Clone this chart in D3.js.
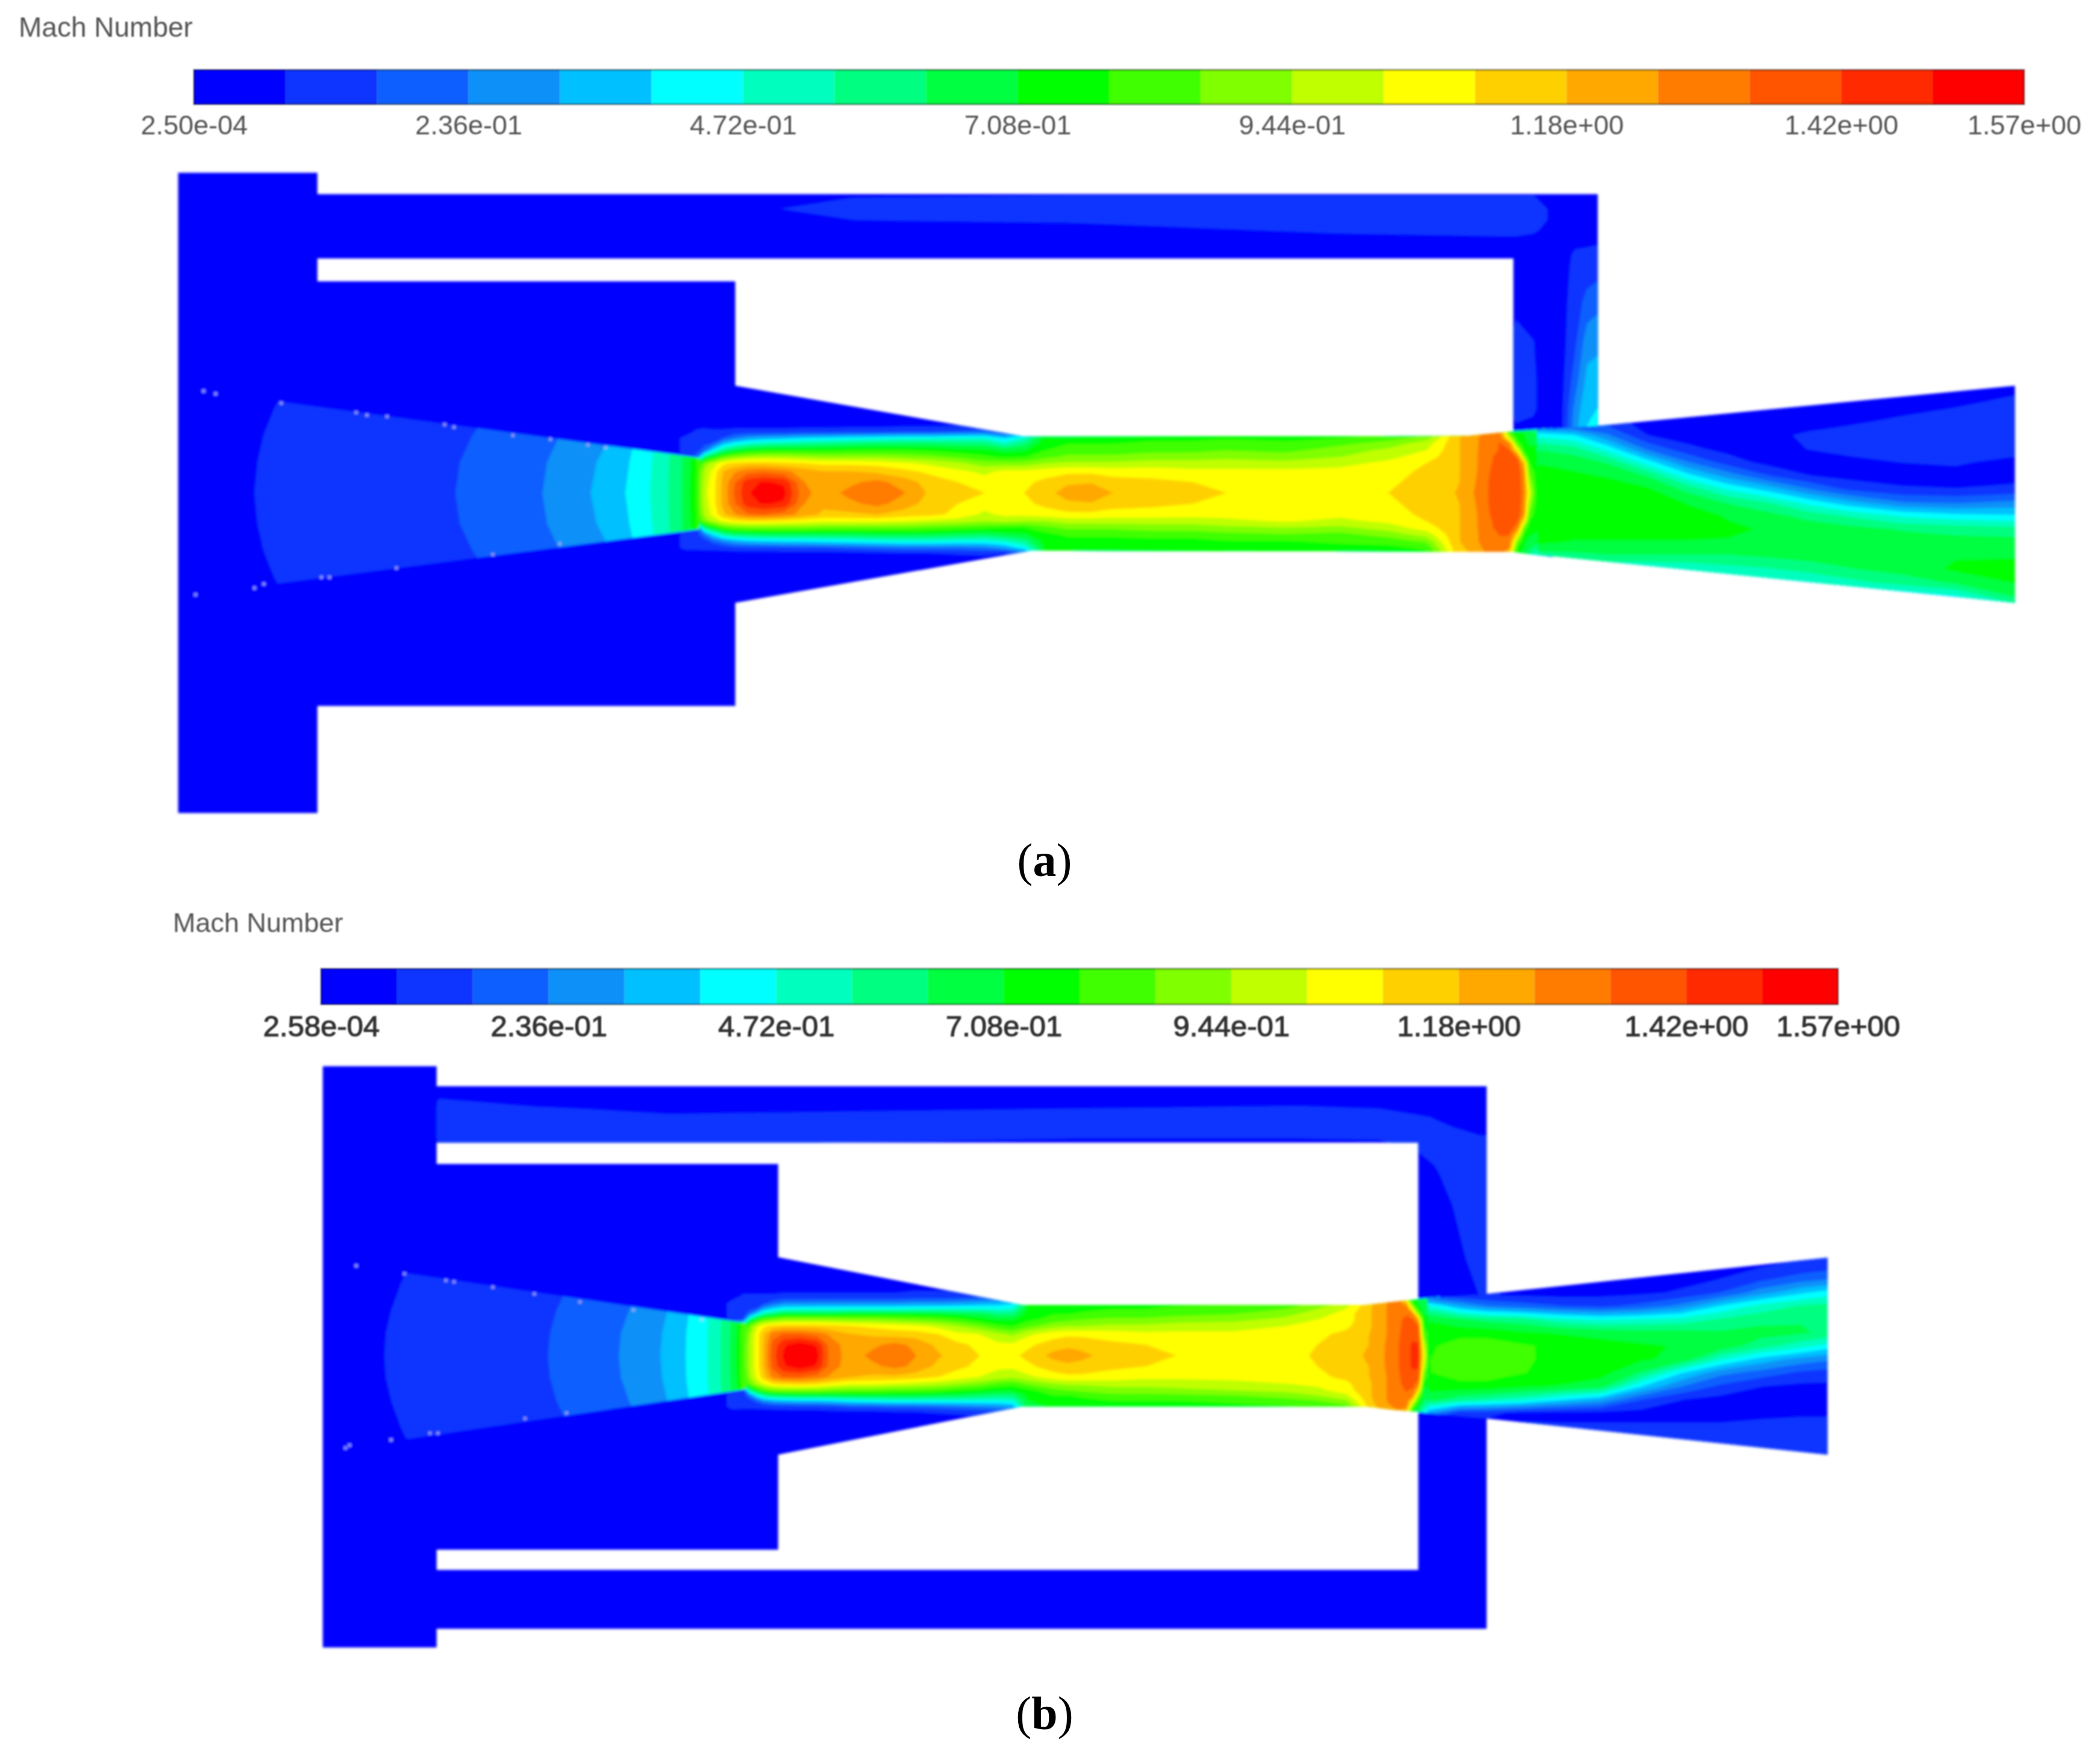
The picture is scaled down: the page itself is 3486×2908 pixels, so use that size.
<!DOCTYPE html>
<html>
<head>
<meta charset="utf-8">
<title>Mach Number contours</title>
<script src="https://d3js.org/d3.v7.min.js"></script>
<style>
  html, body { margin: 0; background: #fff; }
  svg { display: block; }
</style>
</head>
<body>
<svg width="3486" height="2908"></svg>
<script>
// legend: 20 equal bands, same rainbow for both panels
var bandColors = ["#0000ff", "#0a34ff", "#0a60ff", "#0a90f8", "#00c0ff", "#00ffff", "#00ffbf", "#00ff80", "#00ff40", "#00ff00",
                  "#40ff00", "#80ff00", "#bfff00", "#ffff00", "#ffd000", "#ffa800", "#ff7c00", "#ff5400", "#ff2a00", "#ff0000"];
var legendTicks = [0, 3, 6, 9, 12, 15, 18, 20];
var tickLabelsA = ["2.50e-04", "2.36e-01", "4.72e-01", "7.08e-01", "9.44e-01", "1.18e+00", "1.42e+00", "1.57e+00"];
var tickLabelsB = ["2.58e-04", "2.36e-01", "4.72e-01", "7.08e-01", "9.44e-01", "1.18e+00", "1.42e+00", "1.57e+00"];
var machStep = 7.85; // band width, Mach x 100

// geometry, in units of the 1568 wide sheet
var ductA = [[133,129],[237,129],[237,145],[1193,145],[1193,318],[1504.5,288],[1504.5,450],[1130,412],[1090,411],[770,411],[549,450],[549,527],[237,527],[237,607],[133,607]];
var gapA = [[237,193],[1130,193],[1130,322],[1095,325.5],[765,326],[549,288],[549,210],[237,210]];
var coneA = [[150,292],[522,342],[522,395],[150,443]];
var jetClipA = [[500,280],[549,280],[549,288],[765,326],[1095,325.5],[1130,322],[1160,320],[1160,416],[1130,412],[770,411],[549,450],[549,456],[500,456]];
var diffClipA = [[1148,321],[1193,318],[1504.5,288],[1504.5,450],[1148,414]];

var ductB = [[241,796],[326,796],[326,811],[1110,811],[1110,966],[1364.5,939],[1364.5,1086],[1110,1059],[1110,1216],[326,1216],[326,1230],[241,1230]];
var gapB = [[326,853],[1059,853],[1059,970],[1040,972],[1020,974.3],[763,974.3],[581,938.6],[581,869],[326,869]];
var gapB2 = [[326,1157],[581,1157],[581,1086],[763,1050],[1020,1050],[1040,1052.5],[1059,1054],[1059,1172],[326,1172]];
var coneB = [[245,942],[557,988],[557,1037],[245,1083]];
var jetClipB = [[535,930],[581,930],[581,938.6],[763,974.3],[1020,974.3],[1040,972],[1059,970],[1075,968.5],[1075,1056],[1059,1054],[1040,1052.5],[1020,1050],[763,1050],[581,1086],[581,1094],[535,1094]];
var diffClipB = [[1066,969.5],[1110,966],[1364.5,939],[1364.5,1086],[1110,1059],[1066,1055]];

// Mach x 100. Each inner array is one x station, top to bottom.
var jetXA = [500,512,520,526,532,540,548,558,570,585,600,615,635,655,675,695,715,735,750,765,780,797,815,830,860,890,915,960,1000,1037,1065,1087,1101,1112,1120,1127,1133,1138,1142,1147,1155];
var jetYA = [316,322,327,331,336,341,346,352,360,368,376,384,389,394,399,404,409,413,418];
var jetMachA = [
  [4,4,4,4,4,4,4,30,50,52,50,30,4,4,4,4,4,4,4],
  [4,4,10,10,10,10,50,60,65,68,65,60,50,10,10,10,10,4,4],
  [4,9,12,12,12,20,72,78,80,80,80,78,72,14,12,12,10,4,4],
  [4,10,12,14,20,60,90,96,98,100,98,96,90,60,24,12,10,5,4],
  [4,9,12,16,40,72,98,104,106,106,106,104,96,72,40,18,10,5,4],
  [4,9,16,34,58,84,108,118,120,120,120,116,104,82,56,26,11,5,4],
  [4,10,24,42,66,90,112,124,132,134,132,124,108,86,62,32,13,5,4],
  [4,10,30,48,72,94,114,130,146,148,146,132,110,88,64,36,14,5,4],
  [4,10,33,52,75,96,114,132,150,155,150,134,110,88,66,38,14,5,4],
  [4,10,35,54,76,96,112,128,148,152,148,130,108,88,66,40,15,5,4],
  [4,11,38,56,76,94,110,122,126,128,126,122,106,88,66,40,16,5,4],
  [4,11,40,58,76,92,108,118,120,122,120,116,104,86,66,42,16,5,4],
  [4,12,42,60,77,92,108,118,124,128,124,116,104,86,66,44,18,6,4],
  [4,12,44,62,78,92,107,116,128,132,128,118,104,86,68,46,20,7,4],
  [4,14,46,62,78,90,104,112,122,126,122,114,102,86,68,48,22,8,4],
  [4,14,46,62,76,88,100,108,114,116,114,112,100,84,68,48,22,8,4],
  [4,16,48,60,74,84,96,104,110,112,110,108,98,82,66,46,22,9,4],
  [4,18,48,60,72,80,90,100,106,110,106,100,94,80,64,46,24,10,4],
  [4,10,38,50,68,76,90,104,106,108,106,104,96,78,68,50,30,8,4],
  [8,20,50,60,70,78,90,104,108,110,108,104,94,78,70,58,44,20,8],
  [60,70,74,76,78,84,94,106,112,114,112,106,94,84,76,74,72,70,60],
  [68,74,76,78,82,88,96,108,116,122,116,108,98,88,80,76,74,72,68],
  [70,74,76,78,82,88,96,108,117,124,117,108,98,88,80,76,74,72,70],
  [70,74,76,78,82,88,96,106,114,118,114,106,98,88,80,76,74,72,70],
  [70,74,76,80,84,90,98,106,112,115,112,106,98,90,82,76,74,72,70],
  [70,74,76,80,84,90,98,104,110,112,110,105,98,90,82,76,74,72,70],
  [70,74,78,80,86,92,98,104,107,110,107,105,100,92,84,78,74,72,70],
  [70,74,76,80,84,90,97,104,106,106,106,104,103,94,86,78,74,72,70],
  [70,74,78,84,90,94,100,104,106,106,106,104,100,92,84,80,76,74,70],
  [70,76,82,90,96,100,104,106,108,110,108,106,104,98,90,82,76,74,70],
  [72,82,90,98,102,106,110,112,114,114,114,112,110,106,98,88,80,76,72],
  [110,114,116,116,116,116,116,116,116,118,116,116,116,116,116,116,114,112,110],
  [118,122,124,124,124,124,124,124,125,126,125,124,124,124,124,124,122,120,118],
  [124,128,130,130,131,132,132,133,134,134,134,133,132,132,130,130,129,128,124],
  [110,126,132,134,134,136,138,140,140,140,140,140,138,136,134,132,130,128,124],
  [75,80,100,126,134,138,140,140,140,140,140,140,140,138,134,130,126,110,90],
  [72,72,74,82,106,132,138,140,141,141,141,140,136,128,112,90,78,74,72],
  [70,70,72,74,76,90,118,124,126,128,126,124,110,88,76,72,70,68,66],
  [66,66,68,70,72,74,78,84,94,102,94,84,78,74,72,68,64,60,56],
  [60,60,66,70,72,74,75,76,76,78,76,75,74,72,70,66,60,50,40],
  [50,55,62,68,72,74,75,76,76,76,76,75,74,72,70,66,58,44,30]
];

var diffXA = [1150,1175,1200,1230,1260,1290,1320,1350,1380,1420,1460,1510];
var diffYA = [285,300,315,325,335,345,355,365,375,385,395,405,415,425,435,445,455];
var diffMachA = [
  [4,4,10,45,62,70,74,76,76,76,76,72,58,30,4,4,4],
  [4,4,8,40,58,68,72,74,76,76,74,70,60,46,4,4,4],
  [4,4,12,25,44,62,70,74,74,74,74,70,62,46,30,4,4],
  [4,4,4,8,22,43,62,72,76,76,74,70,62,46,38,4,4],
  [4,4,4,4,10,24,42,60,70,74,74,70,62,48,40,4,4],
  [4,4,4,4,5,12,28,46,62,70,72,70,62,52,42,10,4],
  [4,4,4,6,5,5,16,36,55,66,70,70,64,54,44,20,4],
  [4,4,5,9,8,5,8,24,44,60,68,70,66,58,46,30,4],
  [4,4,7,10,10,6,5,14,34,54,66,70,68,62,52,36,4],
  [4,5,9,11,11,8,4,9,24,46,62,68,70,66,58,40,4],
  [4,7,10,11,11,9,5,8,22,42,60,66,70,72,64,46,20],
  [6,9,11,11,11,5,5,10,26,40,58,66,70,74,72,66,50]
];

var passXA = [237,560,640,800,1000,1120,1132,1145,1155,1165,1176,1185,1197];
var passYA = [140,148,156,164,172,180,190,200,225,255,285,305,325];
var passMachA = [
  [4,4,4,4,4,4,4,4,4,4,4,4,4],
  [4,6,7,5,4,4,4,4,4,4,4,4,4],
  [4,8,10,8,4,4,4,4,4,4,4,4,4],
  [4,9,10,9,5,4,4,4,4,4,4,4,4],
  [4,9,11,11,9,5,4,4,4,4,4,4,4],
  [4,9,11,11,10,6,4,4,4,4,4,4,4],
  [4,9,11,11,10,6,4,4,6,10,10,10,6],
  [4,9,11,11,9,5,4,4,4,8,9,9,5],
  [4,4,8,8,6,4,4,4,4,4,4,4,4],
  [4,4,4,4,4,4,4,4,4,4,4,4,4],
  [4,4,4,4,4,6,9,10,12,14,20,26,30],
  [4,4,4,4,4,6,10,12,18,28,34,38,40],
  [4,4,4,4,4,7,11,13,22,30,36,40,42]
];

var coneXA = [140,190,208,340,357,405,416,441,451,467,476,485,491,499,503,509,515,520,525];
var coneYA = [285,305,325,345,368,391,411,431,451];
var coneMachA = [
  [0,0,0,0.5,1,0.5,0,0,0],
  [5,6.3,7.1,7.6,7.85,7.6,7.1,6.3,5],
  [7,8.2,9.1,9.6,9.85,9.6,9.1,8.2,7],
  [10,12.5,14.2,15.3,15.7,15.3,14.2,12.5,10],
  [12,14.5,16.2,17.3,17.7,17.3,16.2,14.5,12],
  [18,19,21.2,22.9,23.55,22.9,21.2,19,18],
  [20,21,23.2,24.9,25.55,24.9,23.2,21,20],
  [26,27,28.4,30.5,31.4,30.5,28.4,27,26],
  [28,29,30.4,32.5,33.4,32.5,30.4,29,28],
  [34,35,36,38.4,39.3,38.4,36,35,34],
  [38,38,40,41,42,41,40,38,38],
  [43,43,44,46.3,47.1,46.3,44,43,43],
  [47,47,48,49,50,49,48,47,47],
  [52,52,53,54.5,55,54.5,53,52,52],
  [55,55,56,58,58,58,56,55,55],
  [60,60,61,62.5,63,62.5,61,60,60],
  [66,66,67,70,71,70,67,66,66],
  [74,74,75,78,79,78,75,74,74],
  [85,85,87,93,95,93,87,85,85]
];

var jetXB = [535,547,555,560,565,570,577,585,597,610,620,635,652,668,683,700,715,731,745,756,767,786,797,808,830,855,877,920,960,984,1005,1023,1036,1044,1050,1055,1059,1063,1067,1075];
var jetYB = [960,968,973,977,981,985,990,996,1004,1012,1020,1028,1033,1038,1042,1046,1050,1054,1060];
var jetMachB = [
  [4,4,4,4,4,4,4,40,50,52,50,40,4,4,4,4,4,4,4],
  [4,6,10,10,10,10,40,60,64,66,64,60,40,10,10,10,10,6,4],
  [4,9,11,11,11,16,70,76,78,78,78,76,70,14,11,11,10,5,4],
  [4,9,11,13,24,60,88,94,96,96,96,94,88,60,24,12,10,5,4],
  [4,9,12,16,40,76,100,106,106,106,106,104,96,74,42,18,10,5,4],
  [4,9,14,30,56,84,108,116,118,118,118,114,104,82,56,26,11,5,4],
  [4,9,20,38,62,88,112,130,136,138,136,128,110,88,62,32,12,5,4],
  [4,10,26,44,70,92,114,134,148,150,148,134,112,90,64,34,13,5,4],
  [4,10,26,45,70,92,114,134,154,156,154,134,114,90,66,36,14,5,4],
  [4,10,27,45,70,92,114,130,148,152,148,130,112,90,66,36,14,5,4],
  [4,10,27,45,70,92,112,124,130,130,130,124,108,88,66,38,15,6,4],
  [4,10,27,46,72,90,110,118,121,122,121,118,104,86,68,42,18,7,4],
  [4,10,27,46,72,90,108,116,124,128,124,116,104,86,68,44,18,7,4],
  [4,10,27,46,72,88,106,114,128,132,128,116,102,84,68,46,20,8,4],
  [4,12,28,47,72,86,104,114,124,126,124,114,100,84,68,46,20,8,4],
  [4,12,28,48,70,84,100,110,116,119,116,110,98,82,66,46,22,9,4],
  [4,12,30,48,68,80,94,104,112,114,112,106,94,78,66,46,24,10,4],
  [4,14,32,48,66,74,88,102,108,110,108,102,90,76,62,46,26,12,4],
  [4,16,34,46,60,70,80,96,104,106,104,98,84,72,60,46,28,14,5],
  [8,24,38,48,60,70,78,92,104,108,104,96,82,72,60,48,32,18,8],
  [50,60,70,72,74,76,84,100,108,112,108,100,88,76,72,70,68,60,40],
  [60,66,74,76,78,82,92,106,114,120,114,106,94,84,78,76,72,66,60],
  [60,68,74,76,78,84,94,108,116,122,116,108,96,86,78,76,72,68,60],
  [62,68,75,76,80,86,94,108,115,120,115,108,96,88,80,76,72,68,62],
  [62,68,76,78,82,88,96,106,112,114,112,106,98,90,84,78,74,68,62],
  [62,68,76,78,82,88,96,104,110,112,110,104,98,90,84,78,74,68,62],
  [62,70,76,80,84,90,98,104,108,110,108,104,98,92,84,78,74,68,62],
  [64,70,78,82,86,92,98,104,106,106,106,104,100,94,86,80,76,70,64],
  [66,72,80,86,92,96,102,106,106,107,106,106,102,96,90,82,78,72,66],
  [70,78,88,94,98,102,106,108,110,111,110,108,104,100,94,86,80,74,68],
  [76,84,96,102,106,106,108,112,114,115,114,112,108,106,100,92,84,76,70],
  [108,114,116,117,117,117,117,118,118,119,118,118,117,117,117,116,114,110,100],
  [118,124,126,126,126,126,126,126,127,127,127,126,126,126,126,126,124,120,112],
  [120,126,130,130,131,132,132,132,133,133,133,132,132,131,130,130,128,124,118],
  [80,90,120,132,133,135,136,138,140,140,140,138,136,134,132,130,128,116,100],
  [70,74,78,100,126,134,136,140,142,142,142,140,136,132,126,108,86,72,64],
  [66,68,70,74,90,120,134,138,142,142,142,138,130,114,92,78,70,62,56],
  [62,64,66,68,70,74,78,86,100,108,100,86,76,70,68,64,56,48,36],
  [58,60,62,66,70,72,74,76,78,78,78,76,72,68,64,58,50,40,28],
  [54,58,62,66,70,72,74,76,78,78,78,76,72,68,64,56,46,36,24]
];

var diffXB = [1066,1090,1110,1135,1165,1195,1225,1255,1285,1315,1345,1370];
var diffYB = [935,945,955,965,975,985,995,1005,1015,1025,1035,1045,1055,1065,1075,1090];
var diffMachB = [
  [4,4,4,4,48,70,74,77,78,78,74,66,30,4,4,4],
  [4,4,4,4,32,64,76,82,84,82,76,58,10,4,4,4],
  [4,4,4,4,24,60,76,82,84,82,76,54,10,4,4,4],
  [4,4,4,4,20,58,72,80,80,79,72,50,6,9,9,9],
  [4,4,4,4,16,50,70,76,76,76,70,40,5,9,9,9],
  [4,4,4,5,14,46,68,74,76,74,66,32,5,9,10,10],
  [4,4,4,6,18,48,66,72,72,62,40,16,5,9,10,11],
  [4,4,5,9,26,50,66,70,68,40,24,8,5,9,11,11],
  [4,5,8,16,40,56,64,68,48,26,14,5,5,9,11,12],
  [5,7,14,28,50,60,66,58,36,20,8,4,6,10,11,12],
  [6,10,20,38,56,62,64,50,28,14,6,4,7,10,11,12],
  [7,12,24,44,58,62,60,42,24,12,6,4,7,10,12,12]
];

var passXB = [322,328,400,500,800,970,1030,1058,1075,1085,1095,1105,1115];
var passYB = [806,815,822,828,834,842,848,853,870,900,940,968];
var passMachB = [
  [4,4,4,4,4,4,4,4,4,4,4,4],
  [4,4,9,10,10,10,10,9,4,4,4,4],
  [4,4,5,9,10,10,10,9,4,4,4,4],
  [4,4,4,6,9,10,10,9,4,4,4,4],
  [4,4,4,8,10,10,9,6,4,4,4,4],
  [4,4,6,9,10,10,9,6,4,4,4,4],
  [4,4,5,8,10,10,9,7,4,4,4,4],
  [4,4,4,5,9,10,10,10,4,4,4,4],
  [4,4,4,4,7,9,10,10,9,4,4,4],
  [4,4,4,4,5,8,10,10,10,8,4,4],
  [4,4,4,4,4,7,9,10,10,10,8,4],
  [4,4,4,4,4,4,8,10,10,10,10,8],
  [4,4,4,4,4,4,8,10,10,10,10,9]
];

var coneXB = [240,287,303,409,421,462,472,493,500,512,517,528,538,545,550,555,560];
var coneYB = [938,958,978,995,1012,1029,1046,1066,1087];
var coneMachB = [
  [0,0,0,0.5,1,0.5,0,0,0],
  [5,6.3,7.2,7.7,7.85,7.7,7.2,6.3,5],
  [7,8.3,9.2,9.7,9.85,9.7,9.2,8.3,7],
  [12,13,14.6,15.4,15.7,15.4,14.6,13,12],
  [14,15,16.6,17.4,17.7,17.4,16.6,15,14],
  [19,20,22,23.2,23.55,23.2,22,20,19],
  [21,22,24,25.2,25.55,25.2,24,22,21],
  [27,28,29.5,31,31.4,31,29.5,28,27],
  [29,30,32,33,33.9,33,32,30,29],
  [36,36,37.5,39,39.3,39,37.5,36,36],
  [39,39,41,42,42.5,42,41,39,39],
  [45,45,46,47,47.1,47,46,45,45],
  [53,53,54,55,55,55,54,53,53],
  [60,60,61,62.5,63,62.5,61,60,60],
  [67,67,68,70.5,71,70.5,68,67,67],
  [80,80,81,83,84,83,81,80,80],
  [92,92,92,95,96,95,92,92,92]
];

// the light specks along the nozzle edge
var specksA = [[152,292],[161,294],[210,301],[266,308],[274,310],[289,311],[332,317],[339,319],[383,325],[411,328],[439,332],[452,334],[296,424],[240,431],[246,431],[197,436],[190,439],[418,406],[368,414],[146,444]];
var specksB = [[266,945],[302,951],[333,956],[339,957],[368,961],[399,966],[433,972],[473,978],[524,985],[258,1081],[261,1079],[292,1075],[321,1070],[327,1070],[392,1059],[423,1055]];

var svg = d3.select("svg");
var x = d3.scaleLinear().domain([0, 1568]).range([0, 3486]);
var y = d3.scaleLinear().domain([0, 1308]).range([0, 2908]);

var defs = svg.append("defs");
defs.append("filter").attr("id", "soft").attr("x", "-2%").attr("y", "-2%").attr("width", "104%").attr("height", "104%")
    .append("feGaussianBlur").attr("stdDeviation", 2.2);
defs.append("filter").attr("id", "softText").attr("x", "-5%").attr("y", "-20%").attr("width", "110%").attr("height", "140%")
    .append("feGaussianBlur").attr("stdDeviation", 0.8);

var poly = d3.line().x(function(d) { return x(d[0]); }).y(function(d) { return y(d[1]); });
function rings(list) {
    return list.map(function(r) { return poly(r) + "Z"; }).join("");
}

function addClip(id, list) {
    defs.append("clipPath").attr("id", id)
        .append("path").attr("clip-rule", "evenodd").attr("d", rings(list));
}

// one field: stations and rows can be unevenly spaced, so grid index -> sheet unit -> pixels
function drawField(g, xs, ys, cols, clipId) {
    var nx = xs.length, ny = ys.length;
    var sx = d3.scaleLinear().domain(xs.map(function(d, i) { return i + 0.5; })).range(xs);
    var sy = d3.scaleLinear().domain(ys.map(function(d, i) { return i + 0.5; })).range(ys);
    var values = d3.merge(d3.transpose(cols));
    var levels = bandColors.map(function(c, i) { return i * machStep; }).slice(1);
    var contours = d3.contours().size([nx, ny]).thresholds(levels)(values);
    var path = d3.geoPath(d3.geoTransform({
        point: function(a, b) { this.stream.point(x(sx(a)), y(sy(b))); }
    }));
    g.append("g").attr("clip-path", "url(#" + clipId + ")")
        .selectAll("path").data(contours).enter().append("path")
        .attr("d", path)
        .attr("fill", function(d, i) { return bandColors[i + 1]; });
}

function drawLegend(titlePos, titleSize, labels, box, fontSize, pad, color, heavy) {
    var lx = d3.scaleLinear().domain([0, 20]).range([box.x0, box.x1]);
    var g = svg.append("g").attr("filter", "url(#softText)");
    g.append("g").selectAll("rect").data(bandColors).enter().append("rect")
        .attr("x", function(d, i) { return lx(i); })
        .attr("y", box.y0)
        .attr("width", function(d, i) { return lx(i + 1) - lx(i); })
        .attr("height", box.y1 - box.y0)
        .attr("fill", function(d) { return d; });
    g.append("rect").attr("x", box.x0).attr("y", box.y0).attr("width", box.x1 - box.x0).attr("height", box.y1 - box.y0)
        .attr("fill", "none").attr("stroke", "#000").attr("stroke-opacity", 0.45).attr("stroke-width", 3);

    var axis = g.append("g").attr("transform", "translate(0," + box.y1 + ")")
        .call(d3.axisBottom(lx).tickValues(legendTicks).tickSize(0).tickPadding(pad)
            .tickFormat(function(d, i) { return labels[i]; }));
    axis.select(".domain").remove();
    axis.selectAll("text")
        .attr("font-family", "'Liberation Sans', Arial, sans-serif")
        .attr("font-size", fontSize)
        .attr("fill", color)
        .attr("stroke", heavy ? color : "none")
        .attr("stroke-width", heavy ? 1.2 : 0);

    g.append("text").attr("x", titlePos[0]).attr("y", titlePos[1])
        .attr("font-family", "'Liberation Sans', Arial, sans-serif")
        .attr("font-size", titleSize).attr("fill", "#555")
        .text("Mach Number");
}

function drawCaption(letter, cx, base) {
    var t = svg.append("text").attr("x", cx).attr("y", base).attr("text-anchor", "middle")
        .attr("font-family", "'Liberation Serif', 'Times New Roman', serif")
        .attr("font-size", 78).attr("fill", "#000");
    t.append("tspan").text("(");
    t.append("tspan").attr("font-weight", "bold").text(letter);
    t.append("tspan").text(")");
}

function drawPanel(p) {
    addClip(p.id + "duct", [p.duct].concat(p.gaps));
    addClip(p.id + "jet", [p.jetClip]);
    addClip(p.id + "diff", [p.diffClip]);
    addClip(p.id + "cone", [p.cone]);

    var g = svg.append("g").attr("filter", "url(#soft)");
    g.append("path").attr("d", rings([p.duct].concat(p.gaps)))
        .attr("fill-rule", "evenodd").attr("fill", bandColors[0]);
    drawField(g, p.passX, p.passY, p.passMach, p.id + "duct");
    drawField(g, p.jetX, p.jetY, p.jetMach, p.id + "jet");
    drawField(g, p.diffX, p.diffY, p.diffMach, p.id + "diff");
    drawField(g, p.coneX, p.coneY, p.coneMach, p.id + "cone");
    g.append("g").selectAll("circle").data(p.specks).enter().append("circle")
        .attr("cx", function(d) { return x(d[0]); })
        .attr("cy", function(d) { return y(d[1]); })
        .attr("r", 2.4)
        .attr("fill", "#aab6ff");
}

drawLegend([31, 61], 46, tickLabelsA, { x0: 322, x1: 3360, y0: 116, y1: 173 }, 45, 18, "#555", false);
drawPanel({ id: "a", duct: ductA, gaps: [gapA], cone: coneA, jetClip: jetClipA, diffClip: diffClipA,
    jetX: jetXA, jetY: jetYA, jetMach: jetMachA, diffX: diffXA, diffY: diffYA, diffMach: diffMachA,
    passX: passXA, passY: passYA, passMach: passMachA, coneX: coneXA, coneY: coneYA, coneMach: coneMachA, specks: specksA });
drawCaption("a", 1734, 1454);

drawLegend([287, 1547], 45, tickLabelsB, { x0: 533, x1: 3051, y0: 1608, y1: 1667 }, 49, 18, "#333", true);
drawPanel({ id: "b", duct: ductB, gaps: [gapB, gapB2], cone: coneB, jetClip: jetClipB, diffClip: diffClipB,
    jetX: jetXB, jetY: jetYB, jetMach: jetMachB, diffX: diffXB, diffY: diffYB, diffMach: diffMachB,
    passX: passXB, passY: passYB, passMach: passMachB, coneX: coneXB, coneY: coneYB, coneMach: coneMachB, specks: specksB });
drawCaption("b", 1734, 2870);
</script>
</body>
</html>
